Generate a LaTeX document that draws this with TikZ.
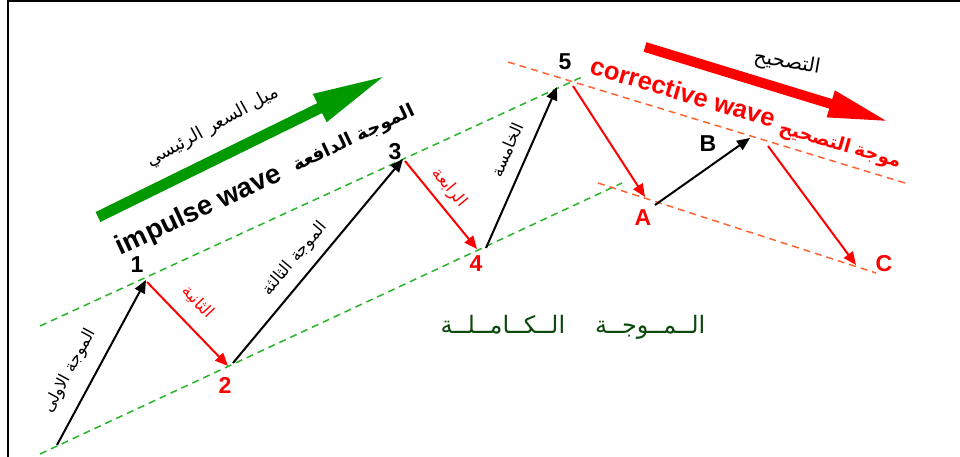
\documentclass[tikz,border=0pt]{standalone}
\usepackage{fontspec}
\setmainfont{Liberation Sans}
\newfontfamily\arabicfont[Script=Arabic]{DejaVu Sans}
\TeXXeTstate=1
\usetikzlibrary{arrows.meta}
\definecolor{wred}{RGB}{255,0,0}
\definecolor{gdashc}{RGB}{40,180,40}
\definecolor{odashc}{RGB}{255,100,50}
\definecolor{bgreen}{RGB}{0,153,0}
\definecolor{dgreen}{RGB}{12,72,12}
\tikzset{
  num/.style={font=\bfseries\fontsize{23}{23}\selectfont, inner sep=0pt},
  wline/.style={line width=2pt, -{Triangle[length=13pt,width=11pt]}},
  redline/.style={wline, draw=wred},
  blkline/.style={wline, draw=black},
  artext/.style={font=\arabicfont\fontsize{16.5}{16.5}\selectfont, inner sep=0pt},
  gdash/.style={draw=gdashc, line width=1.5pt, dash pattern=on 7pt off 5pt},
  odash/.style={draw=odashc, line width=1.5pt, dash pattern=on 7pt off 5pt},
  bigtitle/.style={font=\bfseries\fontsize{27.5}{27.5}\selectfont, inner sep=0pt},
}
\begin{document}
\begin{tikzpicture}[x=1pt,y=-1pt]
\useasboundingbox (0,0) rectangle (960,457);
\fill[white] (0,0) rectangle (960,457);
% frame
\draw[line width=2pt] (8,457) -- (8,1.5) -- (960,1.5);

% channel lines
\coordinate (gu1) at (40,326);  \coordinate (gu2) at (582,77);
\coordinate (gl1) at (40,454);  \coordinate (gl2) at (622,183);
\coordinate (ou1) at (508,62);  \coordinate (ou2) at (905,183);
\coordinate (ol1) at (598,183); \coordinate (ol2) at (876,273);
\draw[gdash] (gu1) -- (gu2);
\draw[gdash] (gl1) -- (gl2);
\draw[odash] (ou1) -- (ou2);
\draw[odash] (ol1) -- (ol2);

% wave points
\coordinate (w0) at (57,445);
\coordinate (p1) at (146,280);
\coordinate (s2) at (147,282);
\coordinate (p2) at (228,366);
\coordinate (s3) at (233,363);
\coordinate (p3) at (403,159);
\coordinate (s4) at (405,161);
\coordinate (p4) at (477,249);
\coordinate (s5) at (486,248);
\coordinate (p5) at (557,87);
\coordinate (sA) at (573,86);
\coordinate (pA) at (645,197);
\coordinate (sB) at (655,205);
\coordinate (pB) at (750,138);
\coordinate (sC) at (768,146);
\coordinate (pC) at (856,265);

\draw[blkline] (w0) -- (p1);
\draw[redline] (s2) -- (p2);
\draw[blkline] (s3) -- (p3);
\draw[redline] (s4) -- (p4);
\draw[blkline] (s5) -- (p5);
\draw[redline] (sA) -- (pA);
\draw[blkline] (sB) -- (pB);
\draw[redline] (sC) -- (pC);

% labels
\node[num] (n1) at (137,265) {1};
\node[num, text=wred] (n2) at (225,385) {2};
\node[num] (n3) at (395,152) {3};
\node[num, text=wred] (n4) at (476,264) {4};
\node[num] (n5) at (565,62) {5};
\node[num, text=wred] (nA) at (643,218) {A};
\node[num] (nB) at (708,144) {B};
\node[num, text=wred] (nC) at (884,264) {C};

% big arrows
\coordinate (gt) at (98,217); \coordinate (gh) at (387,75);
\draw[line width=11pt, draw=bgreen, -{Triangle[length=75pt,width=28pt]}] (gt) -- (gh);
\coordinate (rt) at (645,47); \coordinate (rh) at (890,122);
\draw[line width=10pt, draw=wred, -{Triangle[length=62pt,width=25pt]}] (rt) -- (rh);

% texts along the trend arrows
\node[artext, font=\arabicfont\fontsize{18}{18}\selectfont, rotate=28.8] (trend) at (213,127) {\beginR ميل السعر\hspace{6pt}الرئيسي\endR};
\node[bigtitle, rotate=25] (imp) at (199,211) {impulse wave};
\node[artext, font=\arabicfont\bfseries\fontsize{18.5}{18.5}\selectfont, rotate=25.4] (impar) at (354,139) {\beginR الموجة الدافعة\endR};
\node[artext, font=\arabicfont\fontsize{20}{20}\selectfont, rotate=-10] (corrar) at (787,63) {\beginR التصحيح\endR};
\node[bigtitle, font=\bfseries\fontsize{25.5}{25.5}\selectfont, text=wred, rotate=-16.5] (corr) at (683,92) {corrective wave};
\node[artext, font=\arabicfont\bfseries\fontsize{18.5}{18.5}\selectfont, text=wred, rotate=-16] (corrwar) at (840,146) {\beginR موجة\hspace{5pt}التصحيح\endR};

% texts along waves
\node[artext, rotate=61.7] (t1) at (70,371) {\beginR الموجة الاولى\endR};
\node[artext, text=wred, rotate=-46] (t2) at (198,302) {\beginR الثانية\endR};
\node[artext, rotate=50] (t3) at (295,259) {\beginR الموجة الثالثة\endR};
\node[artext, text=wred, rotate=-50] (t4) at (449,188) {\beginR الرابعة\endR};
\node[artext, rotate=66.5] (t5) at (507,150) {\beginR الخامسة\endR};

% complete wave
\node[artext, font=\arabicfont\fontsize{24}{24}\selectfont, text=dgreen] (full) at (573,327) {\beginR الــمــوجــة\hspace{30pt}الــكــامــلــة\endR};
\end{tikzpicture}
\end{document}
